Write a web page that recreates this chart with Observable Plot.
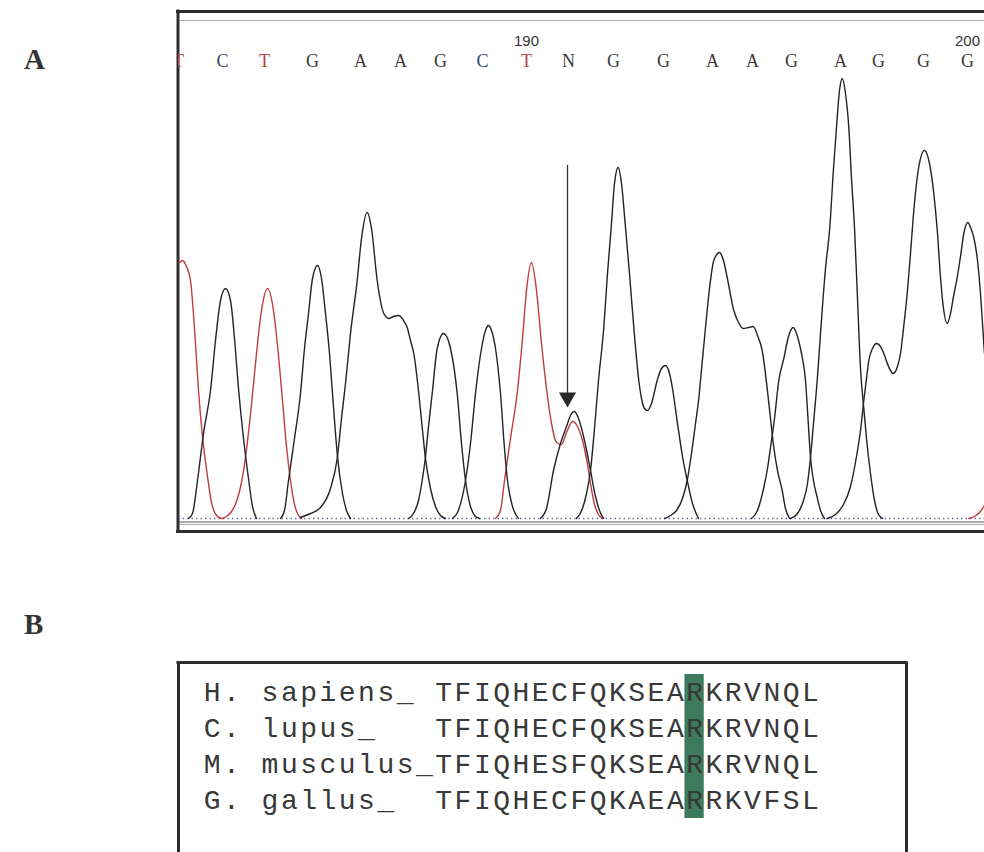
<!DOCTYPE html>
<html>
<head>
<meta charset="utf-8">
<script src="https://cdn.jsdelivr.net/npm/d3@7"></script>
<script src="https://cdn.jsdelivr.net/npm/@observablehq/plot@0.6"></script>
<style>
  html, body { margin: 0; padding: 0; background: #fff; }
  body { width: 984px; height: 852px; overflow: hidden; position: relative; }
  .panel { position: absolute; left: 0; }
  .lab { position: absolute; font-family: "Liberation Serif", "DejaVu Serif", serif; font-weight: bold; font-size: 29px; line-height: 1; color: #333; }
</style>
</head>
<body>
<div id="panelA" class="panel" style="top:0"></div>
<div id="panelB" class="panel" style="top:640px"></div>
<div class="lab" style="left:24px; top:45px">A</div>
<div class="lab" style="left:24px; top:610px">B</div>
<script>
// ---------- Panel A: sequencing chromatogram (scan position, signal intensity) ----------
const baseCalls = ["T","C","T","G","A","A","G","C","T","N","G","G","A","A","G","A","G","G","G"];
const baseScan  = [0, 44, 86, 134, 182, 222, 262, 304, 348, 390, 435, 485, 534, 574, 613, 662, 700, 745, 789];
const tickLabels = ["190", "200"];
const tickScan   = [348, 789];

// trace vertices per dye channel, one list per peak group: [scan, intensity]
const traceT = [
  [[0,255],[4,258],[8,252],[12,238],[16,190],[20,128],[24,82],[29,42],[33,16],[38,3],[43,0]],
  [[44,0],[48,2],[53,7],[58,17],[63,36],[68,69],[73,114],[78,165],[83,208],[89,230],[95,208],[100,163],[104,118],[108,72],[112,38],[116,14],[120,3],[123,0]],
  [[317,0],[322,8],[326,38],[332,80],[339,128],[344,180],[348,228],[353,256],[358,228],[363,175],[368,130],[373,95],[378,76],[383,74],[388,86],[394,97],[399,92],[404,78],[408,60],[412,35],[416,14],[420,4],[424,0]],
  [[790,0],[796,2],[801,6],[806,13]]
];
const traceC = [
  [[10,0],[14,5],[19,38],[25,85],[32,128],[37,178],[42,218],[47,230],[52,218],[56,180],[60,130],[65,80],[70,40],[74,12],[78,0]],
  [[274,0],[279,6],[287,38],[292,75],[297,125],[303,170],[307,188],[310,193],[313,188],[317,170],[322,125],[326,70],[329,38],[334,12],[340,0]],
  [[362,0],[368,10],[375,48],[382,75],[388,92],[392,103],[396,107],[400,100],[406,78],[412,48],[417,22],[421,8],[425,0]]
];
const traceG = [
  [[102,0],[106,8],[110,38],[116,80],[122,125],[126,170],[130,205],[134,240],[139,253],[143,240],[147,205],[151,165],[154,125],[159,62],[164,25],[168,8],[172,0]],
  [[230,0],[235,5],[240,18],[244,40],[247,62],[250,92],[253.7,125],[258.7,170],[265,185],[272,170],[278.7,125],[283,75],[287,38],[292,12],[297,2],[301,0]],
  [[398,0],[404,10],[408,25],[412,48],[416,90],[420,138],[425.3,191],[429,245],[432.7,291],[436,335],[439.7,351],[443,335],[447,291],[451,245],[455.3,191],[460.3,138],[463,120],[466,110],[469,108],[473,115],[478.7,138],[483,150],[487,153],[491,145],[494,130],[499,95],[504,62],[508.7,38],[514,15],[520,0]],
  [[573,0],[579,8],[585.3,31],[589,50],[592,71],[596,100],[600.3,138],[605.3,160],[610,182],[614.7,191],[619,182],[623,165],[627,138],[629.5,100],[632,61],[635,38],[638.7,21],[642,8],[646,0]],
  [[649,0],[657,4],[665,14],[672,32],[678,62],[682,88],[685.3,118],[688,140],[690.3,158],[694,170],[698,175],[702,172],[705.3,165],[710,152],[714.7,145],[719,152],[722,165],[725,190],[728.7,225],[732,265],[735.3,308],[740,350],[746,368],[751,355],[755.3,325],[759,285],[762,241],[765,210],[768.7,195],[772,205],[775,222],[778.7,241],[782,262],[785.3,285],[789.3,296],[792.5,290],[795.3,281],[799,258],[802,225],[805.3,175],[806,165]]
];
const traceA = [
  [[122,1],[132,5],[142,11],[152,30],[158.7,60],[163,100],[167,135],[172,185],[178.7,238],[183,280],[188.7,306],[193,290],[198.7,238],[205.3,205],[210.3,200],[215,202],[220.3,203],[225,198],[228.7,191],[232,178],[235.3,165],[240.3,125],[244,88],[247,60],[252,30],[257,12],[262,3],[267,0]],
  [[486,0],[492,3],[498,8],[504,20],[508.7,38],[513,65],[517,95],[520.3,120],[522,138],[527,191],[531,230],[535.3,258],[541,266],[545,258],[548.7,241],[555.3,208],[560,196],[564.7,190],[570,191],[574.7,192],[579,183],[583.7,168],[588.7,130],[592,100],[595.3,71],[599,48],[603.7,28],[607,10],[611,0]],
  [[612,0],[619,5],[625,18],[629,35],[632,61],[635,95],[638.7,138],[642,185],[647,250],[651.3,291],[655,350],[658,391],[661,428],[663.7,440],[667,425],[670.3,391],[673,340],[676,291],[679,220],[682,150],[685.3,110],[688,80],[692,45],[696,18],[700,4],[704,0]]
];
// arrow marking the heterozygous position (N)
const arrowScan = 389, arrowFrom = 353, arrowTo = 121;

const channels = [
  {name: "T", segs: traceT, color: "#bd3d3d"},
  {name: "C", segs: traceC, color: "#23232b"},
  {name: "G", segs: traceG, color: "#222222"},
  {name: "A", segs: traceA, color: "#222222"}
];
const rows = [];
channels.forEach(c => c.segs.forEach((s, k) => s.forEach(([x, y]) => rows.push({ch: c.name, seg: c.name + k, x, y, color: c.color}))));

const letterColor = {T: "#b8403c", C: "#37466a", G: "#3a3a3a", A: "#3a3a3a", N: "#3a3a3a"};
const calls = baseCalls.map((b, i) => ({b, x: baseScan[i]}));
const ticks = tickLabels.map((t, i) => ({t, x: tickScan[i]}));

const chartA = Plot.plot({
  width: 984, height: 545,
  marginLeft: 178, marginRight: 0, marginTop: 10, marginBottom: 13,
  x: {domain: [0, 806], axis: null},
  y: {domain: [-14, 508], axis: null},
  style: {background: "transparent"},
  marks: [
    Plot.ruleY([0], {x1: 0, x2: 806, stroke: "#6676a8", strokeWidth: 1.3, strokeDasharray: "1.5,3"}),
    Plot.ruleY([-3.5], {x1: 0, x2: 806, stroke: "#555", strokeWidth: 1}),
    Plot.ruleY([-6], {x1: 0, x2: 806, stroke: "#aaa", strokeWidth: 1}),
    Plot.ruleY([-13], {x1: -2, x2: 806, stroke: "#2e2e2e", strokeWidth: 3}),
    Plot.ruleY([507], {x1: -2, x2: 806, stroke: "#2e2e2e", strokeWidth: 3}),
    Plot.ruleY([498], {x1: 0, x2: 806, stroke: "#b0b0b0", strokeWidth: 1}),
    Plot.ruleX([-0.5], {y1: -14.5, y2: 508.5, stroke: "#2e2e2e", strokeWidth: 3}),
    Plot.line(rows, {x: "x", y: "y", z: "seg", stroke: "color", strokeWidth: 1.4, curve: "monotone-x", clip: true}),
    Plot.ruleX([arrowScan], {y1: arrowFrom, y2: arrowTo + 4, stroke: "#333", strokeWidth: 1.3}),
    Plot.dot([arrowScan], {x: d => d, y: arrowTo, symbol: "triangle", rotate: 180, r: 6.4, fill: "#2a2a2a", stroke: null}),
    Plot.text(calls, {x: "x", frameAnchor: "top", lineAnchor: "middle", dy: 51, text: "b", fill: d => letterColor[d.b],
      fontFamily: "'Liberation Serif', 'DejaVu Serif', serif", fontSize: 18, clip: true}),
    Plot.text(ticks, {x: "x", frameAnchor: "top", lineAnchor: "middle", dy: 31, text: "t", fill: "#333",
      fontFamily: "'Liberation Sans', Arial, sans-serif", fontSize: 15})
  ]
});
document.getElementById("panelA").appendChild(chartA);

// ---------- Panel B: protein alignment ----------
const species   = ["H. sapiens_", "C. lupus_", "M. musculus_", "G. gallus_"];
const sequences = ["TFIQHECFQKSEARKRVNQL", "TFIQHECFQKSEARKRVNQL", "TFIQHESFQKSEARKRVNQL", "TFIQHECFQKAEARRKVFSL"];
const seqStartCol = 12;
const conservedResidue = 13;

const chars = [];
species.forEach((name, r) => {
  [...name].forEach((ch, i) => chars.push({row: r, col: i, ch}));
  [...sequences[r]].forEach((ch, j) => chars.push({row: r, col: seqStartCol + j, ch}));
});

const xMin = -1.24, xMax = 36.48, yMin = -0.8333, yMax = 4.4444;
const chartB = Plot.plot({
  width: 984, height: 212,
  marginLeft: 178, marginRight: 78, marginTop: 22, marginBottom: 0,
  x: {domain: [xMin, xMax], axis: null},
  y: {domain: [yMin, yMax], reverse: true, axis: null},
  style: {background: "transparent"},
  marks: [
    Plot.rect([conservedResidue], {x1: d => seqStartCol + d, x2: d => seqStartCol + d + 1,
      y1: -0.5, y2: species.length - 0.5, fill: "#3e7b5e"}),
    Plot.text(chars, {x: d => d.col + 0.5, y: "row", text: "ch", fill: "#383838",
      fontFamily: "'Liberation Mono', 'DejaVu Sans Mono', monospace", fontSize: 28}),
    Plot.ruleY([yMin], {x1: xMin - 0.08, x2: xMax + 0.08, stroke: "#2e2e2e", strokeWidth: 3}),
    Plot.ruleX([xMin, xMax], {y1: yMin, y2: yMax + 1, stroke: "#2e2e2e", strokeWidth: 3})
  ]
});
document.getElementById("panelB").appendChild(chartB);
</script>
</body>
</html>
